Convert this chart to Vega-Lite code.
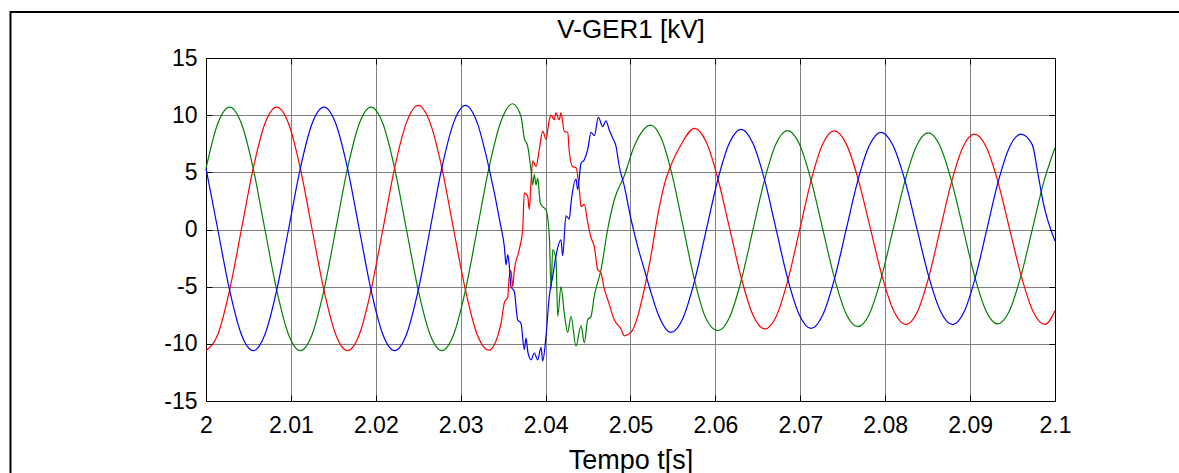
{
  "$schema": "https://vega.github.io/schema/vega-lite/v6.json",
  "width": 849,
  "height": 343,
  "autosize": {"type": "none"},
  "padding": {"left": 206, "top": 58, "right": 124, "bottom": 72},
  "background": "white",
  "config": {
    "font": "Liberation Sans",
    "view": {"stroke": "#000000", "strokeWidth": 1},
    "axis": {
      "labelFont": "Liberation Sans",
      "titleFont": "Liberation Sans",
      "labelColor": "#000000",
      "titleColor": "#000000",
      "domainColor": "#000000",
      "tickColor": "#000000",
      "gridColor": "#808080",
      "gridOpacity": 1,
      "gridWidth": 1,
      "labelFontSize": 23,
      "titleFontWeight": "normal",
      "labelOverlap": false,
      "labelFlush": false
    }
  },
  "datasets": {
    "volt": [
      {"t":2.00000,"p":"G","v":5.35},{"t":2.00139,"p":"G","v":9.27},{"t":2.00278,"p":"G","v":10.7},{"t":2.00417,"p":"G","v":9.27},{"t":2.00556,"p":"G","v":5.35},{"t":2.00694,"p":"G","v":0},{"t":2.00833,"p":"G","v":-5.3},{"t":2.00972,"p":"G","v":-9.18},{"t":2.01111,"p":"G","v":-10.6},{"t":2.01250,"p":"G","v":-9.18},{"t":2.01389,"p":"G","v":-5.3},{"t":2.01528,"p":"G","v":0},{"t":2.01667,"p":"G","v":5.35},{"t":2.01806,"p":"G","v":9.27},{"t":2.01944,"p":"G","v":10.7},{"t":2.02083,"p":"G","v":9.27},{"t":2.02222,"p":"G","v":5.35},{"t":2.02361,"p":"G","v":0},{"t":2.02500,"p":"G","v":-5.3},{"t":2.02639,"p":"G","v":-9.18},{"t":2.02778,"p":"G","v":-10.6},{"t":2.02917,"p":"G","v":-9.18},{"t":2.03056,"p":"G","v":-5.3},{"t":2.03194,"p":"G","v":0},{"t":2.03333,"p":"G","v":5.4},{"t":2.03472,"p":"G","v":9.4},{"t":2.03611,"p":"G","v":11.0},
      {"t":2.03710,"p":"G","v":9.9},{"t":2.03749,"p":"G","v":8.0},{"t":2.03789,"p":"G","v":7.3},{"t":2.03828,"p":"G","v":5.2},{"t":2.03848,"p":"G","v":3.9},{"t":2.03867,"p":"G","v":4.8},{"t":2.03887,"p":"G","v":3.9},{"t":2.03907,"p":"G","v":4.5},{"t":2.03938,"p":"G","v":2.3},{"t":2.03966,"p":"G","v":2.0},{"t":2.04005,"p":"G","v":1.7},{"t":2.04044,"p":"G","v":-0.6},{"t":2.04064,"p":"G","v":-5.2},{"t":2.04084,"p":"G","v":-1.75},{"t":2.04122,"p":"G","v":-2.6},{"t":2.04143,"p":"G","v":-7.6},{"t":2.04181,"p":"G","v":-5.0},{"t":2.04220,"p":"G","v":-7.3},{"t":2.04260,"p":"G","v":-9.0},{"t":2.04299,"p":"G","v":-7.6},{"t":2.04358,"p":"G","v":-10.2},{"t":2.04417,"p":"G","v":-8.4},{"t":2.04456,"p":"G","v":-9.9},{"t":2.04496,"p":"G","v":-7.9},{"t":2.04535,"p":"G","v":-7.6},{"t":2.04574,"p":"G","v":-5.8},{"t":2.04653,"p":"G","v":-3.5},{"t":2.04731,"p":"G","v":0},{"t":2.04809,"p":"G","v":2.6},{"t":2.04927,"p":"G","v":4.7},{"t":2.05045,"p":"G","v":7.3},{"t":2.05130,"p":"G","v":8.5},
      {"t":2.05236,"p":"G","v":9.13},{"t":2.05365,"p":"G","v":7.93},{"t":2.05494,"p":"G","v":4.64},{"t":2.05623,"p":"G","v":0.14},{"t":2.05752,"p":"G","v":-4.36},{"t":2.05881,"p":"G","v":-7.65},{"t":2.06030,"p":"G","v":-8.85},{"t":2.06167,"p":"G","v":-7.68},{"t":2.06303,"p":"G","v":-4.48},{"t":2.06440,"p":"G","v":-0.1},{"t":2.06577,"p":"G","v":4.28},{"t":2.06713,"p":"G","v":7.48},{"t":2.06850,"p":"G","v":8.65},{"t":2.06988,"p":"G","v":7.5},{"t":2.07125,"p":"G","v":4.36},{"t":2.07263,"p":"G","v":0.08},{"t":2.07401,"p":"G","v":-4.21},{"t":2.07538,"p":"G","v":-7.35},{"t":2.07676,"p":"G","v":-8.5},{"t":2.07815,"p":"G","v":-7.36},{"t":2.07953,"p":"G","v":-4.26},{"t":2.08092,"p":"G","v":-0.03},{"t":2.08231,"p":"G","v":4.21},{"t":2.08369,"p":"G","v":7.31},{"t":2.08508,"p":"G","v":8.45},{"t":2.08644,"p":"G","v":7.33},{"t":2.08780,"p":"G","v":4.27},{"t":2.08917,"p":"G","v":0.1},{"t":2.09053,"p":"G","v":-4.08},{"t":2.09189,"p":"G","v":-7.14},{"t":2.09325,"p":"G","v":-8.26},{"t":2.09461,"p":"G","v":-7.15},{"t":2.09597,"p":"G","v":-4.12},{"t":2.09733,"p":"G","v":0.02},{"t":2.09868,"p":"G","v":4.16},{"t":2.10000,"p":"G","v":7.15},

      {"t":2.00000,"p":"R","v":-10.6},{"t":2.00139,"p":"R","v":-9.18},{"t":2.00278,"p":"R","v":-5.3},{"t":2.00417,"p":"R","v":0},{"t":2.00556,"p":"R","v":5.35},{"t":2.00694,"p":"R","v":9.27},{"t":2.00833,"p":"R","v":10.7},{"t":2.00972,"p":"R","v":9.27},{"t":2.01111,"p":"R","v":5.35},{"t":2.01250,"p":"R","v":0},{"t":2.01389,"p":"R","v":-5.3},{"t":2.01528,"p":"R","v":-9.18},{"t":2.01667,"p":"R","v":-10.6},{"t":2.01806,"p":"R","v":-9.18},{"t":2.01944,"p":"R","v":-5.3},{"t":2.02083,"p":"R","v":0},{"t":2.02222,"p":"R","v":5.4},{"t":2.02361,"p":"R","v":9.35},{"t":2.02500,"p":"R","v":10.85},{"t":2.02639,"p":"R","v":9.35},{"t":2.02778,"p":"R","v":5.4},{"t":2.02917,"p":"R","v":0},{"t":2.03056,"p":"R","v":-5.3},{"t":2.03194,"p":"R","v":-9.18},{"t":2.03333,"p":"R","v":-10.55},
      {"t":2.03475,"p":"R","v":-8.2},{"t":2.03514,"p":"R","v":-6.4},{"t":2.03554,"p":"R","v":-5.9},{"t":2.03572,"p":"R","v":-4.1},{"t":2.03592,"p":"R","v":-3.6},{"t":2.03612,"p":"R","v":-5.0},{"t":2.03631,"p":"R","v":-3.6},{"t":2.03690,"p":"R","v":-1.75},{"t":2.03730,"p":"R","v":0},{"t":2.03749,"p":"R","v":3.2},{"t":2.03789,"p":"R","v":2.9},{"t":2.03808,"p":"R","v":1.75},{"t":2.03828,"p":"R","v":4.1},{"t":2.03848,"p":"R","v":6.0},{"t":2.03887,"p":"R","v":5.5},{"t":2.03926,"p":"R","v":7.0},{"t":2.03966,"p":"R","v":8.6},{"t":2.04005,"p":"R","v":7.9},{"t":2.04044,"p":"R","v":9.6},{"t":2.04064,"p":"R","v":10.0},{"t":2.04102,"p":"R","v":9.6},{"t":2.04122,"p":"R","v":10.2},{"t":2.04161,"p":"R","v":9.6},{"t":2.04181,"p":"R","v":10.2},{"t":2.04220,"p":"R","v":8.6},{"t":2.04260,"p":"R","v":8.5},{"t":2.04279,"p":"R","v":6.8},{"t":2.04319,"p":"R","v":5.5},{"t":2.04358,"p":"R","v":5.4},{"t":2.04397,"p":"R","v":3.5},{"t":2.04417,"p":"R","v":2.0},{"t":2.04456,"p":"R","v":2.2},{"t":2.04496,"p":"R","v":0.6},{"t":2.04535,"p":"R","v":-0.7},{"t":2.04574,"p":"R","v":-1.5},{"t":2.04614,"p":"R","v":-3.5},{"t":2.04653,"p":"R","v":-3.8},{"t":2.04691,"p":"R","v":-5.2},{"t":2.04731,"p":"R","v":-6.1},{"t":2.04809,"p":"R","v":-7.9},{"t":2.04888,"p":"R","v":-8.7},{"t":2.04927,"p":"R","v":-9.3},{"t":2.05006,"p":"R","v":-9.0},{"t":2.05085,"p":"R","v":-7.6},{"t":2.05163,"p":"R","v":-5.2},{"t":2.05241,"p":"R","v":-2.3},{"t":2.05320,"p":"R","v":1.2},{"t":2.05398,"p":"R","v":3.9},{"t":2.05516,"p":"R","v":6.3},{"t":2.05587,"p":"R","v":7.3},
      {"t":2.05752,"p":"R","v":8.85},{"t":2.05891,"p":"R","v":7.67},{"t":2.06029,"p":"R","v":4.46},{"t":2.06168,"p":"R","v":0.08},{"t":2.06307,"p":"R","v":-4.31},{"t":2.06445,"p":"R","v":-7.52},{"t":2.06584,"p":"R","v":-8.7},{"t":2.06720,"p":"R","v":-7.54},{"t":2.06856,"p":"R","v":-4.37},{"t":2.06992,"p":"R","v":-0.04},{"t":2.07128,"p":"R","v":4.3},{"t":2.07264,"p":"R","v":7.47},{"t":2.07400,"p":"R","v":8.63},{"t":2.07541,"p":"R","v":7.49},{"t":2.07682,"p":"R","v":4.39},{"t":2.07823,"p":"R","v":0.16},{"t":2.07963,"p":"R","v":-4.08},{"t":2.08104,"p":"R","v":-7.18},{"t":2.08245,"p":"R","v":-8.32},{"t":2.08379,"p":"R","v":-7.2},{"t":2.08513,"p":"R","v":-4.16},{"t":2.08648,"p":"R","v":0.01},{"t":2.08782,"p":"R","v":4.18},{"t":2.08916,"p":"R","v":7.22},{"t":2.09050,"p":"R","v":8.34},{"t":2.09189,"p":"R","v":7.23},{"t":2.09327,"p":"R","v":4.18},{"t":2.09466,"p":"R","v":0.02},{"t":2.09605,"p":"R","v":-4.14},{"t":2.09743,"p":"R","v":-7.19},{"t":2.09882,"p":"R","v":-8.3},{"t":2.10000,"p":"R","v":-7.1},

      {"t":2.00000,"p":"B","v":5.35},{"t":2.00139,"p":"B","v":0},{"t":2.00278,"p":"B","v":-5.3},{"t":2.00417,"p":"B","v":-9.18},{"t":2.00556,"p":"B","v":-10.6},{"t":2.00694,"p":"B","v":-9.18},{"t":2.00833,"p":"B","v":-5.3},{"t":2.00972,"p":"B","v":0},{"t":2.01111,"p":"B","v":5.35},{"t":2.01250,"p":"B","v":9.27},{"t":2.01389,"p":"B","v":10.7},{"t":2.01528,"p":"B","v":9.27},{"t":2.01667,"p":"B","v":5.35},{"t":2.01806,"p":"B","v":0},{"t":2.01944,"p":"B","v":-5.3},{"t":2.02083,"p":"B","v":-9.18},{"t":2.02222,"p":"B","v":-10.6},{"t":2.02361,"p":"B","v":-9.18},{"t":2.02500,"p":"B","v":-5.3},{"t":2.02639,"p":"B","v":0},{"t":2.02778,"p":"B","v":5.4},{"t":2.02917,"p":"B","v":9.35},{"t":2.03056,"p":"B","v":10.85},{"t":2.03194,"p":"B","v":9.35},{"t":2.03333,"p":"B","v":5.4},{"t":2.03472,"p":"B","v":0.3},
      {"t":2.03514,"p":"B","v":-1.5},{"t":2.03534,"p":"B","v":-3.1},{"t":2.03554,"p":"B","v":-2.2},{"t":2.03572,"p":"B","v":-3.1},{"t":2.03592,"p":"B","v":-5.0},{"t":2.03631,"p":"B","v":-5.4},{"t":2.03671,"p":"B","v":-7.9},{"t":2.03710,"p":"B","v":-8.2},{"t":2.03749,"p":"B","v":-10.5},{"t":2.03769,"p":"B","v":-9.5},{"t":2.03793,"p":"B","v":-10.8},{"t":2.03828,"p":"B","v":-11.4},{"t":2.03867,"p":"B","v":-10.8},{"t":2.03907,"p":"B","v":-11.4},{"t":2.03946,"p":"B","v":-10.3},{"t":2.03966,"p":"B","v":-11.5},{"t":2.04005,"p":"B","v":-9.3},{"t":2.04044,"p":"B","v":-5.8},{"t":2.04084,"p":"B","v":-4.1},{"t":2.04122,"p":"B","v":-2.3},{"t":2.04181,"p":"B","v":-0.9},{"t":2.04201,"p":"B","v":-2.3},{"t":2.04240,"p":"B","v":1.2},{"t":2.04279,"p":"B","v":0.9},{"t":2.04299,"p":"B","v":2.3},{"t":2.04358,"p":"B","v":4.4},{"t":2.04378,"p":"B","v":3.5},{"t":2.04417,"p":"B","v":5.8},{"t":2.04456,"p":"B","v":6.1},{"t":2.04496,"p":"B","v":7.0},{"t":2.04535,"p":"B","v":8.5},{"t":2.04574,"p":"B","v":8.2},{"t":2.04621,"p":"B","v":9.8},{"t":2.04673,"p":"B","v":9.0},{"t":2.04711,"p":"B","v":9.5},{"t":2.04750,"p":"B","v":8.7},{"t":2.04790,"p":"B","v":8.0},{"t":2.04829,"p":"B","v":7.3},{"t":2.04868,"p":"B","v":5.5},{"t":2.04927,"p":"B","v":3.8},{"t":2.05006,"p":"B","v":0.9},{"t":2.05085,"p":"B","v":-1.5},{"t":2.05163,"p":"B","v":-3.5},{"t":2.05241,"p":"B","v":-5.5},{"t":2.05320,"p":"B","v":-7.3},
      {"t":2.05477,"p":"B","v":-9.0},{"t":2.05615,"p":"B","v":-7.81},{"t":2.05752,"p":"B","v":-4.56},{"t":2.05890,"p":"B","v":-0.13},{"t":2.06027,"p":"B","v":4.31},{"t":2.06165,"p":"B","v":7.56},{"t":2.06302,"p":"B","v":8.75},{"t":2.06439,"p":"B","v":7.58},{"t":2.06577,"p":"B","v":4.4},{"t":2.06714,"p":"B","v":0.05},{"t":2.06851,"p":"B","v":-4.3},{"t":2.06989,"p":"B","v":-7.48},{"t":2.07126,"p":"B","v":-8.65},{"t":2.07263,"p":"B","v":-7.5},{"t":2.07401,"p":"B","v":-4.37},{"t":2.07538,"p":"B","v":-0.08},{"t":2.07675,"p":"B","v":4.21},{"t":2.07813,"p":"B","v":7.34},{"t":2.07950,"p":"B","v":8.49},{"t":2.08091,"p":"B","v":7.36},{"t":2.08232,"p":"B","v":4.29},{"t":2.08373,"p":"B","v":0.09},{"t":2.08513,"p":"B","v":-4.12},{"t":2.08654,"p":"B","v":-7.19},{"t":2.08795,"p":"B","v":-8.32},{"t":2.08929,"p":"B","v":-7.2},{"t":2.09063,"p":"B","v":-4.16},{"t":2.09197,"p":"B","v":0.01},{"t":2.09331,"p":"B","v":4.18},{"t":2.09465,"p":"B","v":7.22},{"t":2.09599,"p":"B","v":8.34},{"t":2.09733,"p":"B","v":7.4},{"t":2.09796,"p":"B","v":5.0},{"t":2.09860,"p":"B","v":2.4},{"t":2.10000,"p":"B","v":-1.0}
    ]
  },
  "layer": [
    {
      "data": {"values": [{}]},
      "mark": {"type": "rect", "filled": false, "color": "#000000", "strokeWidth": 2, "clip": false},
      "encoding": {
        "x": {"datum": 1.97697, "type": "quantitative", "scale": {"domain": [2, 2.1], "nice": false, "zero": false},
              "axis": {"orient": "top", "values": [2,2.01,2.02,2.03,2.04,2.05,2.06,2.07,2.08,2.09,2.1], "labels": false, "grid": false, "ticks": true, "tickSize": -6, "domain": true,
                       "title": "V-GER1 [kV]", "titleFontSize": 26, "titleBaseline": "alphabetic", "titlePadding": 20}},
        "x2": {"datum": 2.13},
        "y": {"datum": 19.02, "type": "quantitative", "scale": {"domain": [-15, 15], "nice": false, "zero": false},
              "axis": {"orient": "right", "values": [-15,-10,-5,0,5,10,15], "labels": false, "grid": false, "ticks": true, "tickSize": -6, "domain": true, "title": null}},
        "y2": {"datum": -25}
      }
    },
    {
      "data": {"name": "volt"},
      "mark": {"type": "line", "interpolate": "monotone", "strokeWidth": 1.2},
      "encoding": {
        "x": {"field": "t", "type": "quantitative", "scale": {"domain": [2, 2.1], "nice": false, "zero": false},
              "axis": {"orient": "bottom", "values": [2,2.01,2.02,2.03,2.04,2.05,2.06,2.07,2.08,2.09,2.1], "labelExpr": "'' + datum.value", "grid": true, "ticks": true, "tickSize": -6, "labelPadding": 19,
                       "title": "Tempo t[s]", "titleFontSize": 27, "titlePadding": 10}},
        "y": {"field": "v", "type": "quantitative", "scale": {"domain": [-15, 15], "nice": false, "zero": false},
              "axis": {"orient": "left", "values": [-15,-10,-5,0,5,10,15], "labelExpr": "'' + datum.value", "grid": true, "ticks": true, "tickSize": -6, "labelPadding": 15, "title": null}},
        "color": {"field": "p", "type": "nominal", "scale": {"domain": ["G", "R", "B"], "range": ["#008000", "#ff0000", "#0000ff"]}, "legend": null}
      }
    }
  ],
  "resolve": {"axis": {"x": "independent", "y": "independent"}}
}
